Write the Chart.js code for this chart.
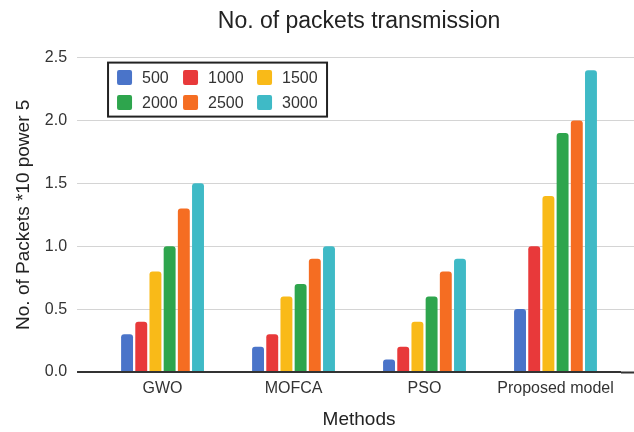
<!DOCTYPE html>
<html>
<head>
<meta charset="utf-8">
<title>No. of packets transmission</title>
<script src="https://cdn.jsdelivr.net/npm/chart.js@4"></script>
<style>
    html, body { margin: 0; padding: 0; background: #ffffff; }
    #wrap { width: 634px; height: 432px; }
</style>
</head>
<body>
<div id="wrap"><canvas id="packetsChart"></canvas></div>
<script>
// Data (values are x 10^5 packets)
const methods = ['GWO', 'MOFCA', 'PSO', 'Proposed model'];
const seriesNames = ['500', '1000', '1500', '2000', '2500', '3000'];
const values500 = [0.3, 0.2, 0.1, 0.5];
const values1000 = [0.4, 0.3, 0.2, 1.0];
const values1500 = [0.8, 0.6, 0.4, 1.4];
const values2000 = [1.0, 0.7, 0.6, 1.9];
const values2500 = [1.3, 0.9, 0.8, 2.0];
const values3000 = [1.5, 1.0, 0.9, 2.4];
const yTicks = [0, 0.5, 1.0, 1.5, 2.0, 2.5];

const seriesColors = ['#4a74c9', '#e8393a', '#f9ba18', '#2ea54d', '#f56d22', '#3fbac6'];
const FONT = "'Liberation Sans', Arial, sans-serif";

/**
 * Legend drawn as a boxed 3 x 2 grid inside the plot area
 */
const boxedLegend = {
    id: 'boxedLegend',
    afterDatasetsDraw(chart) {
        const ctx = chart.ctx;
        const area = chart.chartArea;
        const x0 = area.left + 11;
        const y0 = area.top + 5;
        const w = 219, h = 54;

        ctx.save();
        ctx.fillStyle = '#ffffff';
        ctx.fillRect(x0, y0, w, h);
        ctx.lineWidth = 2;
        ctx.strokeStyle = '#222222';
        ctx.strokeRect(x0, y0, w, h);

        const colX = [9, 75, 149];
        const rowY = [15, 40];
        ctx.font = '16px ' + FONT;
        ctx.textBaseline = 'middle';
        ctx.textAlign = 'left';
        chart.data.datasets.forEach((ds, i) => {
            const cx = x0 + colX[i % 3];
            const cy = y0 + rowY[Math.floor(i / 3)];
            ctx.fillStyle = ds.backgroundColor;
            ctx.beginPath();
            ctx.roundRect(cx, cy - 7.5, 15, 15, 2);
            ctx.fill();
            ctx.fillStyle = '#333333';
            ctx.fillText(ds.label, cx + 25, cy + 1);
        });
        ctx.restore();
    }
};

document.addEventListener('DOMContentLoaded', function() {
    const ctx = document.getElementById('packetsChart');
    const seriesValues = [values500, values1000, values1500, values2000, values2500, values3000];

    const gridColor = c => (c.tick && c.tick.value === 0 ? '#333333' : '#d4d4d4');
    const gridWidth = c => (c.tick && c.tick.value === 0 ? 2 : 1);

    new Chart(ctx, {
        type: 'bar',
        data: {
            labels: methods,
            datasets: seriesNames.map((name, i) => ({
                label: name,
                data: seriesValues[i],
                backgroundColor: seriesColors[i],
                borderRadius: { topLeft: 3, topRight: 3 },
                borderSkipped: 'bottom',
                categoryPercentage: 0.65,
                barPercentage: 0.84
            }))
        },
        options: {
            responsive: true,
            maintainAspectRatio: false,
            animation: false,
            layout: { padding: { left: 0, right: 0, top: 0, bottom: 0 } },
            plugins: {
                legend: { display: false },
                tooltip: { enabled: false },
                title: {
                    display: true,
                    text: 'No. of packets transmission',
                    fullSize: false,
                    color: '#222222',
                    font: { family: FONT, size: 23, weight: 'normal' },
                    padding: { top: 8, bottom: 22 }
                }
            },
            scales: {
                x: {
                    grid: { display: false, drawTicks: false, tickLength: 0 },
                    border: { display: false },
                    ticks: {
                        color: '#333333',
                        padding: 7,
                        maxRotation: 0,
                        font: { family: FONT, size: 16 }
                    },
                    title: {
                        display: true,
                        text: 'Methods',
                        color: '#222222',
                        font: { family: FONT, size: 19 },
                        padding: { top: 3, bottom: 1 }
                    }
                },
                y: {
                    min: 0,
                    max: 2.5,
                    afterBuildTicks: axis => { axis.ticks = yTicks.map(v => ({ value: v })); },
                    grid: {
                        color: gridColor,
                        lineWidth: gridWidth,
                        tickColor: gridColor,
                        tickWidth: gridWidth,
                        tickLength: 20
                    },
                    border: { display: false },
                    ticks: {
                        color: '#333333',
                        padding: 10,
                        font: { family: FONT, size: 16 },
                        callback: value => Number(value).toFixed(1)
                    },
                    title: {
                        display: true,
                        text: 'No. of Packets *10 power 5',
                        color: '#222222',
                        font: { family: FONT, size: 19 },
                        padding: { top: 12, bottom: 0 }
                    }
                },
                y2: {
                    position: 'right',
                    min: 0,
                    max: 2.5,
                    afterBuildTicks: axis => { axis.ticks = yTicks.map(v => ({ value: v })); },
                    grid: {
                        drawOnChartArea: false,
                        tickColor: gridColor,
                        tickWidth: gridWidth,
                        tickLength: 13
                    },
                    border: { display: false },
                    ticks: { display: false }
                }
            }
        },
        plugins: [boxedLegend]
    });
});
</script>
</body>
</html>
